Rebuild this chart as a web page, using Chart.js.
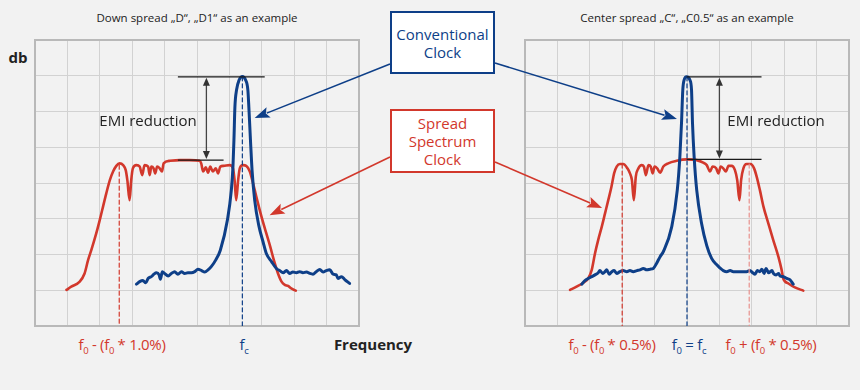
<!DOCTYPE html>
<html><head><meta charset="utf-8">
<script src="https://cdn.jsdelivr.net/npm/chart.js@4.4.1/dist/chart.umd.min.js"></script>
<style>
html,body{margin:0;padding:0;background:#f2f2f2;}
body{width:860px;height:390px;position:relative;overflow:hidden;font-family:"Open Sans","Noto Sans",sans-serif;}
.cw{position:absolute;top:35px;width:334px;height:296px;}
.t{position:absolute;white-space:nowrap;transform:translate(-50%,-50%);line-height:1;}
.title{font-size:11.5px;color:#222;}
.lab{font-size:15px;letter-spacing:-0.3px;}
.lab sub{font-size:9.5px;vertical-align:-4px;line-height:0;}
.red{color:#d2382c;}
.blue{color:#0e3f88;}
.box{position:absolute;box-sizing:border-box;background:#fff;border:2px solid;text-align:center;font-size:15px;display:flex;align-items:center;justify-content:center;line-height:18px;z-index:5;}
svg{position:absolute;left:0;top:0;z-index:4;}
</style>
</head><body>
<div class="t title" style="left:197px;top:18px;">Down spread „D“, „D1“ as an example</div>
<div class="t title" style="left:687px;top:18px;">Center spread „C“, „C0.5“ as an example</div>
<div class="t" style="left:18px;top:57px;font-size:15px;font-weight:bold;color:#222;">db</div>
<div class="cw" style="left:30px;"><canvas id="cL"></canvas></div>
<div class="cw" style="left:520px;"><canvas id="cR"></canvas></div>
<div class="t" style="left:148px;top:120px;font-size:15px;color:#222;">EMI reduction</div>
<div class="t" style="left:776px;top:120px;font-size:15px;color:#222;">EMI reduction</div>
<div class="t lab red" style="left:122px;top:344px;">f<sub>0</sub> - (f<sub>0</sub> * 1.0%)</div>
<div class="t lab blue" style="left:244px;top:344px;">f<sub>c</sub></div>
<div class="t" style="left:373px;top:344px;font-size:15px;font-weight:bold;color:#222;">Frequency</div>
<div class="t lab red" style="left:612px;top:344px;">f<sub>0</sub> - (f<sub>0</sub> * 0.5%)</div>
<div class="t lab blue" style="left:689px;top:344px;">f<sub>0</sub> = f<sub>c</sub></div>
<div class="t lab red" style="left:771px;top:344px;">f<sub>0</sub> + (f<sub>0</sub> * 0.5%)</div>
<div id="bConv" class="box blue" style="left:390px;top:11px;width:105px;height:63px;border-color:#0e3f88;">Conventional<br>Clock</div>
<div id="bSpread" class="box red" style="left:390px;top:109px;width:105px;height:64px;border-color:#d2382c;">Spread<br>Spectrum<br>Clock</div>
<svg id="ov" width="860" height="390"></svg>
<script>
// grid units: x 0..10, y 0..8
const leftBlueX = [3.13,3.23,3.33,3.42,3.49,3.59,3.67,3.75,3.83,3.87,3.93,4.00,4.11,4.21,4.31,4.41,4.52,4.62,4.72,4.83,4.93,5.03,5.14,5.24,5.34,5.44,5.58,5.72,5.94,6.06,6.11,6.14,6.17,6.22,6.30,6.40,6.50,6.57,6.60,6.65,6.70,6.78,6.91,7.04,7.14,7.30,7.45,7.55,7.66,7.76,7.86,7.96,8.07,8.17,8.27,8.38,8.48,8.58,8.68,8.79,8.89,8.99,9.10,9.20,9.30,9.35,9.46,9.56,9.71];
const leftBlueY = [1.17,1.24,1.27,1.21,1.33,1.38,1.45,1.49,1.43,1.31,1.52,1.47,1.40,1.47,1.52,1.45,1.52,1.47,1.49,1.49,1.52,1.59,1.55,1.51,1.57,1.66,1.85,2.12,2.97,3.80,4.46,5.20,6.13,6.60,6.88,6.98,6.88,6.60,6.13,5.20,4.35,3.52,2.80,2.35,2.03,1.80,1.61,1.55,1.49,1.55,1.47,1.51,1.49,1.52,1.49,1.51,1.47,1.45,1.52,1.58,1.51,1.55,1.57,1.45,1.43,1.33,1.38,1.30,1.19];
const leftRedX = [0.97,1.12,1.38,1.53,1.64,1.74,1.89,2.00,2.10,2.20,2.31,2.41,2.51,2.61,2.72,2.80,2.85,2.92,2.97,3.02,3.13,3.23,3.31,3.38,3.49,3.54,3.59,3.66,3.71,3.77,3.85,3.92,3.97,4.16,4.47,4.77,5.08,5.13,5.19,5.27,5.34,5.41,5.49,5.58,5.65,5.72,5.82,6.01,6.11,6.16,6.21,6.27,6.32,6.42,6.52,6.63,6.73,6.83,6.99,7.14,7.26,7.37,7.45,7.50,7.61,7.71,7.81,7.91,8.05];
const leftRedY = [1.01,1.10,1.24,1.47,1.85,2.13,2.59,2.97,3.34,3.71,4.08,4.32,4.48,4.55,4.50,4.36,4.08,3.52,4.08,4.41,4.50,4.46,4.22,4.50,4.46,4.22,4.46,4.41,4.27,4.46,4.41,4.32,4.55,4.62,4.64,4.64,4.62,4.55,4.32,4.44,4.29,4.46,4.32,4.41,4.27,4.46,4.48,4.50,4.41,4.08,3.52,4.08,4.41,4.50,4.48,4.32,3.99,3.62,3.06,2.59,2.22,1.85,1.61,1.47,1.24,1.15,1.12,1.05,0.99];
const rightBlueX = [1.75,1.85,1.95,2.06,2.16,2.26,2.31,2.40,2.47,2.52,2.60,2.68,2.75,2.83,2.93,3.03,3.14,3.24,3.34,3.45,3.55,3.65,3.76,3.86,3.96,4.06,4.17,4.27,4.53,4.70,4.78,4.83,4.87,4.91,4.99,5.09,5.14,5.17,5.22,5.30,5.45,5.61,5.76,5.92,6.02,6.12,6.23,6.33,6.43,6.53,6.69,6.84,6.94,7.03,7.10,7.17,7.24,7.31,7.38,7.44,7.52,7.62,7.67,7.75,7.83,7.87,7.98,8.08,8.18,8.28];
const rightBlueY = [1.17,1.27,1.33,1.38,1.43,1.49,1.55,1.47,1.52,1.57,1.45,1.52,1.55,1.47,1.52,1.55,1.52,1.55,1.52,1.55,1.57,1.61,1.57,1.59,1.61,1.75,1.94,2.08,2.78,3.80,4.74,5.67,6.60,6.88,6.97,6.88,6.60,5.67,4.74,3.80,2.87,2.25,1.89,1.71,1.62,1.55,1.52,1.55,1.52,1.52,1.52,1.52,1.55,1.49,1.45,1.55,1.52,1.59,1.47,1.61,1.49,1.55,1.47,1.43,1.47,1.40,1.38,1.33,1.29,1.17];
const rightRedX = [1.39,1.59,1.80,1.95,2.06,2.16,2.26,2.37,2.47,2.57,2.67,2.75,2.83,2.93,3.03,3.16,3.24,3.30,3.36,3.42,3.50,3.60,3.67,3.73,3.81,3.88,3.94,4.00,4.08,4.17,4.27,4.42,4.68,4.99,5.30,5.50,5.61,5.71,5.79,5.90,5.97,6.04,6.12,6.20,6.28,6.38,6.48,6.55,6.62,6.67,6.74,6.84,6.96,7.07,7.15,7.25,7.36,7.51,7.66,7.82,7.92,7.97,8.13,8.33,8.59];
const rightRedY = [1.01,1.10,1.21,1.33,1.57,2.03,2.41,2.78,3.15,3.52,3.90,4.27,4.46,4.53,4.53,4.41,4.27,4.08,3.52,4.18,4.41,4.50,4.46,4.22,4.50,4.46,4.27,4.46,4.41,4.29,4.46,4.55,4.62,4.66,4.64,4.57,4.50,4.32,4.46,4.41,4.27,4.46,4.41,4.32,4.48,4.48,4.36,4.08,3.52,4.08,4.41,4.53,4.53,4.41,4.18,3.80,3.34,2.87,2.41,1.94,1.57,1.33,1.19,1.08,0.99];
// dashed frequency markers: [x, top y, colour]
const leftMarkers = [[2.6,4.5,'#d2382c'],[6.4,6.97,'#0e3f88']];
const rightMarkers = [[3.0,4.53,'#d2382c'],[6.92,4.53,'#e8908c'],[5.0,6.97,'#0e3f88']];
// EMI reduction: [xStart, xEndTop, xEndBottom, yTop, yBottom, xArrow]
const leftEmi = [4.41,7.09,5.82,6.97,4.64,5.29];
const rightEmi = [4.99,7.30,7.30,6.97,4.66,6.0];
// callout arrow targets in grid units
const convTargets = [[6.78,5.82],[4.69,5.79]];
const spreadTargets = [[7.24,3.1],[2.38,3.3]];

const BLUE='#0e3f88', RED='#d2382c';
function pts(xs,ys){return xs.map((x,i)=>({x:x,y:ys[i]}));}

const frameAndEmi = {
  id:'emi',
  beforeDatasetsDraw(chart){
    const a=chart.chartArea, ctx=chart.ctx;
    ctx.save(); ctx.strokeStyle='#b9b9b9'; ctx.lineWidth=2;
    ctx.strokeRect(a.left,a.top,a.right-a.left,a.bottom-a.top);
    ctx.restore();
  },
  afterDatasetsDraw(chart,args,opts){
    const e = opts.v; if(!e) return;
    const xs=chart.scales.x, ys=chart.scales.y, ctx=chart.ctx;
    const X=v=>xs.getPixelForValue(v), Y=v=>ys.getPixelForValue(v);
    ctx.save();
    ctx.strokeStyle='#1a1a1a'; ctx.lineWidth=1.3;
    ctx.beginPath();
    ctx.moveTo(X(e[0]),Y(e[3])); ctx.lineTo(X(e[1]),Y(e[3]));
    ctx.moveTo(X(e[0]),Y(e[4])); ctx.lineTo(X(e[2]),Y(e[4]));
    ctx.stroke();
    const ax=X(e[5]), y1=Y(e[3]), y2=Y(e[4]);
    ctx.strokeStyle='#444'; ctx.fillStyle='#333'; ctx.lineWidth=1.3;
    ctx.beginPath(); ctx.moveTo(ax,y1+4); ctx.lineTo(ax,y2-4); ctx.stroke();
    ctx.beginPath(); ctx.moveTo(ax,y1+1); ctx.lineTo(ax-3.5,y1+9); ctx.lineTo(ax+3.5,y1+9); ctx.closePath(); ctx.fill();
    ctx.beginPath(); ctx.moveTo(ax,y2-1); ctx.lineTo(ax-3.5,y2-9); ctx.lineTo(ax+3.5,y2-9); ctx.closePath(); ctx.fill();
    ctx.restore();
  }
};

function makeChart(id, blueX, blueY, redX, redY, markers, emi){
  const ds = [];
  markers.forEach(m=>ds.push({data:[{x:m[0],y:m[1]},{x:m[0],y:0}],borderColor:m[2],borderWidth:1.2,borderDash:[4,3],pointRadius:0,tension:0}));
  ds.push({data:pts(blueX,blueY),borderColor:BLUE,borderWidth:3,pointRadius:0,cubicInterpolationMode:'monotone'});
  ds.push({data:pts(redX,redY),borderColor:RED,borderWidth:2.6,pointRadius:0,cubicInterpolationMode:'monotone'});
  return new Chart(document.getElementById(id),{
    type:'line',
    data:{datasets:ds},
    plugins:[frameAndEmi],
    options:{
      responsive:true,maintainAspectRatio:false,animation:false,
      layout:{padding:5},
      plugins:{legend:{display:false},tooltip:{enabled:false},emi:{v:emi}},
      elements:{line:{borderCapStyle:'round',borderJoinStyle:'round'}},
      scales:{
        x:{type:'linear',min:0,max:10,ticks:{display:false,stepSize:1},grid:{color:'#d2d2d2',lineWidth:1,drawTicks:false},border:{color:'#b9b9b9',width:2}},
        y:{type:'linear',min:0,max:8,ticks:{display:false,stepSize:1},grid:{color:'#d2d2d2',lineWidth:1,drawTicks:false},border:{color:'#b9b9b9',width:2}}
      }
    },
  });
}
const cL = makeChart('cL',leftBlueX,leftBlueY,leftRedX,leftRedY,leftMarkers,leftEmi);
const cR = makeChart('cR',rightBlueX,rightBlueY,rightRedX,rightRedY,rightMarkers,rightEmi);

// callout arrows
function pagePt(chart,wrapLeft,p){return [wrapLeft+chart.scales.x.getPixelForValue(p[0]), 35+chart.scales.y.getPixelForValue(p[1])];}
const ov=document.getElementById('ov');
function arrow(x1,y1,x2,y2,color){
  const dx=x2-x1, dy=y2-y1, L=Math.hypot(dx,dy), ux=dx/L, uy=dy/L;
  const hl=15, hw=5.5;
  const bx=x2-ux*hl, by=y2-uy*hl;
  const ns='http://www.w3.org/2000/svg';
  const ln=document.createElementNS(ns,'line');
  ln.setAttribute('x1',x1);ln.setAttribute('y1',y1);ln.setAttribute('x2',bx+ux*2);ln.setAttribute('y2',by+uy*2);
  ln.setAttribute('stroke',color);ln.setAttribute('stroke-width','1.6');
  ov.appendChild(ln);
  const pg=document.createElementNS(ns,'polygon');
  pg.setAttribute('points',`${x2},${y2} ${bx-uy*hw},${by+ux*hw} ${bx+ux*3},${by+uy*3} ${bx+uy*hw},${by-ux*hw}`);
  pg.setAttribute('fill',color);
  ov.appendChild(pg);
}
let p=pagePt(cL,30,convTargets[0]); arrow(390,64,p[0],p[1],BLUE);
p=pagePt(cR,520,convTargets[1]); arrow(495,63,p[0],p[1],BLUE);
p=pagePt(cL,30,spreadTargets[0]); arrow(390,157,p[0],p[1],RED);
p=pagePt(cR,520,spreadTargets[1]); arrow(495,162,p[0],p[1],RED);
</script>
</body></html>
